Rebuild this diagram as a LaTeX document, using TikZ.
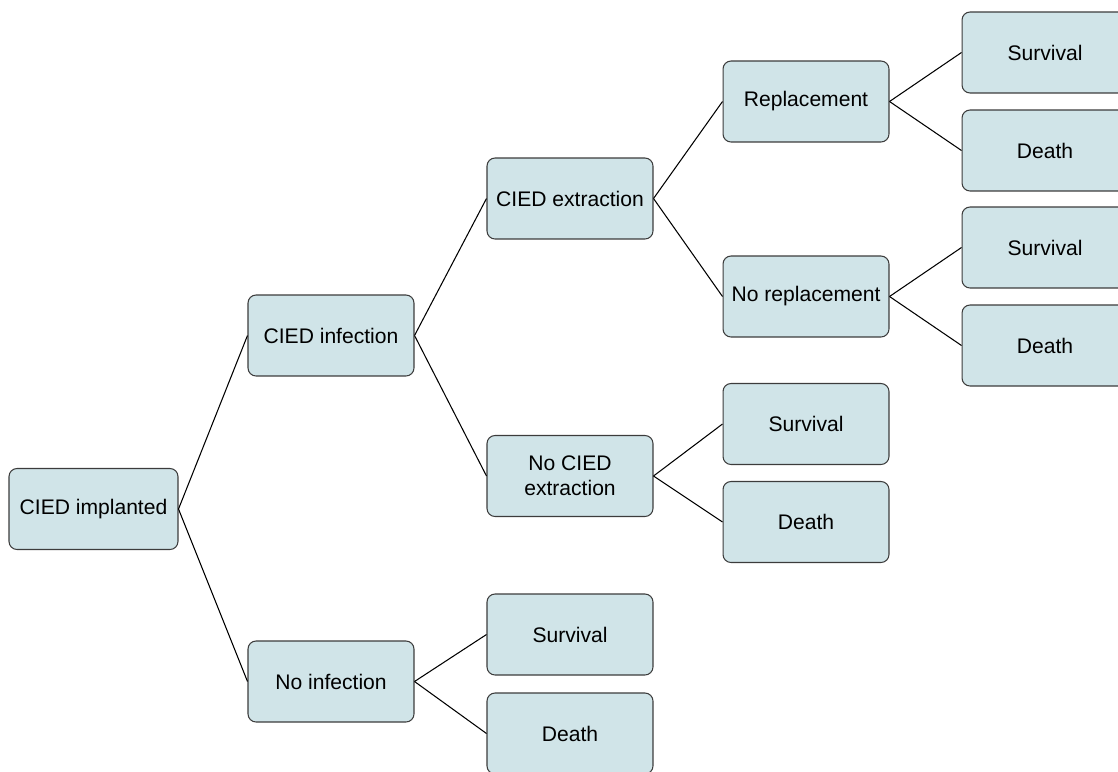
\documentclass[tikz,border=0pt]{standalone}
\usepackage{fontspec}
\setmainfont{Liberation Sans}
\definecolor{boxfill}{RGB}{208,228,232}
\definecolor{boxline}{RGB}{60,60,60}

\begin{document}
\begin{tikzpicture}[x=0.02cm,y=-0.02cm,
    box/.style={draw=boxline,fill=boxfill,rounded corners=0.16cm,line width=0.6pt,
      minimum width=3.32cm,minimum height=1.62cm,align=center,font=\fontsize{12}{14}\selectfont},
    link/.style={line width=0.6pt}]
  \clip (0,0) rectangle (1118,771);
  \useasboundingbox (0,0) rectangle (1118,771);
  \node[box,minimum width=3.38cm] (implanted) at (93.5,509) {CIED implanted};
  \node[box] (infection) at (331,335.5) {CIED infection};
  \node[box] (noinfection) at (331,681.5) {No infection};
  \node[box] (extraction) at (570,198.5) {CIED extraction};
  \node[box] (noextraction) at (570,476) {No CIED\\extraction};
  \node[box] (survA) at (570,634.5) {Survival};
  \node[box] (deathA) at (570,733.5) {Death};
  \node[box] (replacement) at (806,101.5) {Replacement};
  \node[box] (noreplacement) at (806,296.5) {No replacement};
  \node[box] (survB) at (806,424) {Survival};
  \node[box] (deathB) at (806,522) {Death};
  \node[box] (survC) at (1045,52.5) {Survival};
  \node[box] (deathC) at (1045,150.5) {Death};
  \node[box] (survD) at (1045,247.5) {Survival};
  \node[box] (deathD) at (1045,345.5) {Death};

  \draw[link] (implanted.east) -- (infection.west);
  \draw[link] (implanted.east) -- (noinfection.west);
  \draw[link] (infection.east) -- (extraction.west);
  \draw[link] (infection.east) -- (noextraction.west);
  \draw[link] (noinfection.east) -- (survA.west);
  \draw[link] (noinfection.east) -- (deathA.west);
  \draw[link] (extraction.east) -- (replacement.west);
  \draw[link] (extraction.east) -- (noreplacement.west);
  \draw[link] (noextraction.east) -- (survB.west);
  \draw[link] (noextraction.east) -- (deathB.west);
  \draw[link] (replacement.east) -- (survC.west);
  \draw[link] (replacement.east) -- (deathC.west);
  \draw[link] (noreplacement.east) -- (survD.west);
  \draw[link] (noreplacement.east) -- (deathD.west);
\end{tikzpicture}
\end{document}
